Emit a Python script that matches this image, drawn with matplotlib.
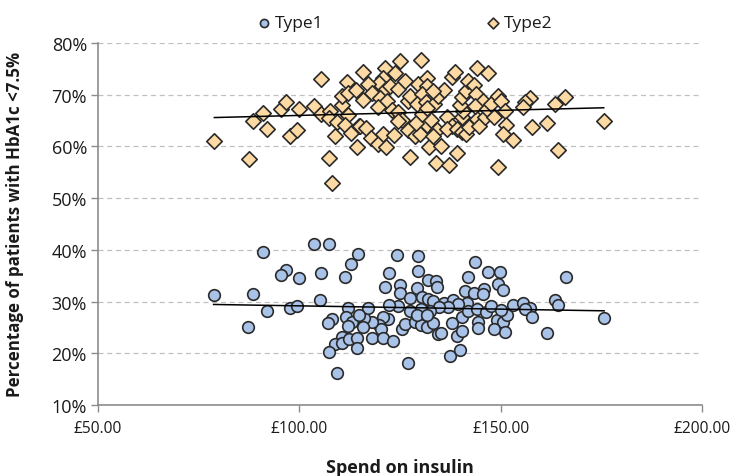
import numpy as np
import matplotlib
matplotlib.use("Agg")
import matplotlib.pyplot as plt
from matplotlib.ticker import FuncFormatter

# Type 2 (diamonds): spend (£) and % with HbA1c < 7.5%
type2_x = [105.5, 78.9, 87.4, 108.0, 107.4, 88.6, 91.1, 92.0, 95.4, 96.6, 99.9, 97.8, 99.3,
           103.6, 105.3, 107.5, 107.4, 109.3, 108.9, 110.5, 110.5, 111.9, 112.2, 114.1, 112.1,
           111.4, 112.9, 114.4, 114.8,
           125.0, 130.2, 115.9, 121.3, 123.8, 120.8, 119.8, 117.1, 118.1, 121.6, 122.5, 124.6,
           126.2, 120.0, 121.8, 115.9, 119.6, 122.9, 124.4, 125.4, 115.1, 116.5, 117.9, 119.6,
           120.8, 121.5, 123.5, 127.5, 133.9, 137.2, 139.1, 149.4, 132.2, 135.2, 127.1, 128.7,
           130.0, 131.6, 132.8, 128.9, 130.4, 127.1, 127.5, 129.5, 131.8, 131.8, 130.4, 129.1,
           131.4, 133.5, 134.5, 136.0, 133.3, 131.8, 134.3, 133.3, 136.7, 137.8, 136.6, 139.1,
           140.5, 141.4, 142.2, 144.0, 144.6, 146.1, 140.3, 140.7, 139.9, 140.3, 141.5, 141.9,
           143.4, 143.8, 137.8, 138.7, 144.0, 146.9, 145.7, 143.6, 146.5, 147.7, 149.4, 150.2,
           151.1, 148.3, 151.3, 150.5, 153.0, 124.6,
           157.3, 156.0, 155.5, 166.1, 163.6, 161.6, 157.8, 164.3, 175.6]
type2_y = [73.0, 61.0, 57.6, 52.9, 57.8, 64.9, 66.5, 63.3, 67.3, 68.5, 67.2, 62.0, 63.2,
           67.9, 66.3, 66.8, 65.5, 64.7, 62.0, 68.0, 69.8, 72.4, 70.4, 71.0, 66.1,
           64.1, 62.5, 59.9, 63.9,
           76.5, 76.7, 74.3, 75.1, 74.2, 73.2, 72.2, 72.1, 70.3, 71.2, 71.7, 71.1,
           72.7, 69.3, 68.8, 69.0, 67.6, 67.0, 66.6, 65.2, 64.0, 63.6, 61.6, 60.5,
           62.4, 59.9, 62.3, 58.0, 56.8, 56.4, 58.7, 56.1, 59.8, 60.1, 63.2, 62.1,
           62.4, 64.1, 65.2, 64.5, 66.3, 68.8, 69.8, 72.1, 73.2, 71.6, 70.1, 68.2,
           68.5, 68.2, 69.8, 71.0, 70.8, 67.4, 63.2, 62.1, 65.6, 64.0, 63.4, 63.4,
           62.7, 62.4, 63.8, 65.4, 64.0, 65.6, 65.6, 66.9, 68.0, 69.6, 70.8, 72.7,
           71.9, 70.1, 73.5, 74.3, 75.2, 74.2, 68.8, 67.9, 67.2, 68.3, 69.8, 68.8,
           66.9, 65.6, 64.1, 62.4, 61.3, 65.0,
           69.4, 68.5, 67.6, 69.5, 68.2, 64.5, 63.7, 59.4, 65.0]

# Type 1 (circles)
type1_x = [90.9, 103.6, 107.4, 114.5, 112.8, 111.3, 105.5, 96.6, 95.4, 99.8, 78.7, 88.6,
           105.1, 92.0, 97.7, 99.3, 87.3, 112.2, 108.0, 107.2, 111.7, 113.1, 112.0, 110.5,
           108.9, 110.5, 107.4, 112.4, 114.2, 114.4, 109.3,
           124.3, 129.5, 143.6, 122.3, 129.5, 141.9, 146.9, 149.8, 132.0, 133.9, 134.1, 121.3,
           125.0, 129.1, 125.0, 127.5, 130.4, 132.0, 133.3, 135.9, 138.2, 141.1, 143.4, 145.9,
           149.4, 150.5, 145.5, 141.7, 139.4, 137.0, 134.8, 132.4, 130.1, 127.5, 124.4, 122.3,
           122.1, 120.8, 119.9, 120.4, 118.1, 116.1, 115.9, 118.1, 120.8, 123.3, 125.4, 126.2,
           128.7, 130.1, 131.8, 133.1, 129.1, 131.6, 134.5, 135.1, 137.8, 139.1, 140.3, 140.3,
           141.9, 144.0, 144.3, 144.3, 146.3, 147.7, 149.0, 150.6, 151.5, 151.1, 148.3, 153.1,
           150.2, 137.4, 139.9, 127.1, 117.1, 114.8,
           166.2, 155.6, 157.3, 156.0, 157.8, 161.6, 163.5, 164.3, 175.7]
type1_y = [39.6, 41.1, 41.1, 39.2, 37.3, 34.8, 35.6, 36.1, 35.1, 34.5, 31.3, 31.5,
           30.3, 28.2, 28.7, 29.2, 25.0, 28.7, 26.7, 25.8, 27.1, 26.1, 25.2, 23.2,
           21.8, 21.9, 20.2, 22.7, 22.9, 21.1, 16.2,
           39.0, 38.9, 37.6, 35.6, 35.9, 34.8, 35.8, 35.8, 34.2, 34.0, 32.9, 32.9,
           33.2, 32.6, 31.6, 30.6, 30.8, 30.5, 30.1, 29.7, 30.4, 32.1, 31.6, 32.5,
           33.4, 32.3, 31.5, 29.7, 29.5, 28.9, 28.9, 28.2, 28.6, 28.2, 29.1, 29.3,
           26.7, 27.1, 25.5, 24.7, 26.1, 26.9, 25.0, 22.9, 22.9, 22.3, 24.7, 25.6,
           26.0, 25.5, 25.0, 25.8, 27.4, 27.4, 23.7, 24.0, 25.8, 23.3, 24.4, 27.1,
           28.2, 28.6, 26.1, 24.8, 27.9, 29.1, 26.5, 26.0, 27.4, 24.2, 24.7, 29.3,
           28.4, 19.5, 20.7, 18.1, 28.7, 27.4,
           34.8, 29.7, 28.7, 28.6, 27.0, 24.0, 30.3, 29.3, 26.8]

series_names = ["Type1", "Type2"]
x_ticks = [50, 100, 150, 200]
y_ticks = [10, 20, 30, 40, 50, 60, 70, 80]

plt.rcParams['font.family'] = ['Open Sans', 'DejaVu Sans']

fig = plt.figure(figsize=(7.34, 4.77), dpi=100)
ax = fig.add_axes([98/734, 1-406/477, (702-98)/734, (406-44)/477])

c1_face, c2_face = "#a9c3e8", "#fdd9a3"
edge = "#2a2a2a"

ax.scatter(type1_x, type1_y, s=70, marker="o", facecolor=c1_face, edgecolor=edge,
           linewidth=1.2, zorder=3, label=series_names[0])
ax.scatter(type2_x, type2_y, s=62, marker="D", facecolor=c2_face, edgecolor=edge,
           linewidth=1.2, zorder=3, label=series_names[1])

for xs, ys in [(type1_x, type1_y), (type2_x, type2_y)]:
    xs = np.array(xs); ys = np.array(ys)
    m, b = np.polyfit(xs, ys, 1)
    xl = np.array([xs.min(), xs.max()])
    ax.plot(xl, m*xl + b, color="black", lw=1.1, zorder=4)

ax.set_xlim(50, 200)
ax.set_ylim(10, 80)
ax.set_xticks(x_ticks)
ax.set_yticks(y_ticks)
ax.xaxis.set_major_formatter(FuncFormatter(lambda v, p: f"£{v:.2f}"))
ax.yaxis.set_major_formatter(FuncFormatter(lambda v, p: f"{v:.0f}%"))
ax.yaxis.grid(True, linestyle=(0, (4, 3)), color="#c0c0c0", lw=0.9)
ax.set_axisbelow(True)
for s in ["top", "right"]:
    ax.spines[s].set_visible(False)
for s in ["left", "bottom"]:
    ax.spines[s].set_color("#8c8c8c")
    ax.spines[s].set_linewidth(1.2)
ax.tick_params(axis="both", colors="#8c8c8c", labelcolor="#1a1a1a", length=5, width=1)
ax.tick_params(axis="y", labelsize=13, pad=3)
ax.tick_params(axis="x", labelsize=11.2, pad=6)

fig.text(400/734, 1-468/477, "Spend on insulin", fontsize=13, fontweight="bold",
         ha="center", va="center", color="#1a1a1a")
fig.text(15/734, 1-224/477, "Percentage of patients with HbA1c <7.5%", fontsize=12.2,
         fontweight="bold", ha="center", va="center", rotation=90, color="#1a1a1a")

leg = ax.legend(loc="center", ncol=2, frameon=False,
                fontsize=12.5, handletextpad=0.0, columnspacing=9.2, markerscale=0.7,
                handlelength=1.2)
for t in leg.get_texts():
    t.set_color("#1a1a1a")
leg.set_bbox_to_anchor((0.5 + (403-400)/604, 1 + 20/362), transform=ax.transAxes)

fig.savefig("out.png", dpi=100)
